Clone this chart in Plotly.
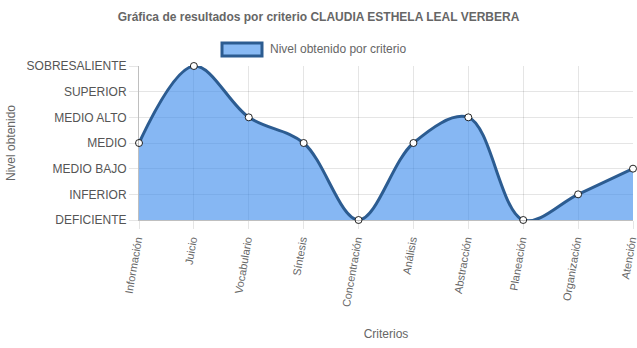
import plotly.graph_objects as go

# Criteria evaluated and the level obtained in each (0 = DEFICIENTE ... 6 = SOBRESALIENTE)
criterios = ["Información", "Juicio", "Vocabulario", "Síntesis", "Concentración",
             "Análisis", "Abstracción", "Planeación", "Organización", "Atención"]
niveles = [3, 6, 4, 3, 0, 3, 4, 0, 1, 2]
etiquetas_nivel = ["DEFICIENTE", "INFERIOR", "MEDIO BAJO", "MEDIO",
                   "MEDIO ALTO", "SUPERIOR", "SOBRESALIENTE"]

LINE = "rgb(44,92,145)"
FILL = "rgba(54,135,235,0.6)"
TXT = "#666666"
GRID = "rgba(0,0,0,0.1)"
FONT = "Liberation Sans, Arial, sans-serif"

fig = go.Figure()
fig.add_trace(go.Scatter(
    x=list(range(len(criterios))), y=niveles,
    mode="lines+markers",
    line=dict(color=LINE, width=3, shape="spline", smoothing=1.0),
    fill="tozeroy", fillcolor=FILL,
    marker=dict(size=7, color="white", line=dict(color="rgba(0,0,0,0.85)", width=1)),
    cliponaxis=False, showlegend=False,
))

fig.update_layout(
    width=637, height=348,
    margin=dict(l=139, r=4, t=66, b=128),
    paper_bgcolor="white", plot_bgcolor="white",
    font=dict(family=FONT, size=12, color=TXT),
    title=dict(text="<b>Gráfica de resultados por criterio CLAUDIA ESTHELA LEAL VERBERA</b>",
               x=0.5, xanchor="center", y=1 - 17 / 348, yanchor="middle",
               font=dict(size=12, color=TXT, family=FONT)),
    xaxis=dict(
        range=[0, len(criterios) - 1],
        tickvals=list(range(len(criterios))), ticktext=criterios,
        tickangle=-80, tickfont=dict(size=11, color=TXT),
        ticklabeloverflow="allow", ticklabelshift=-2,
        showgrid=True, gridcolor=GRID, gridwidth=1,
        ticks="outside", ticklen=8, tickcolor=GRID,
        showline=True, linecolor="rgba(0,0,0,0.25)", linewidth=1,
        zeroline=False, automargin=False,
        title=dict(text="Criterios", font=dict(size=12, color=TXT), standoff=22),
    ),
    yaxis=dict(
        range=[0, 6],
        tickvals=list(range(len(etiquetas_nivel))), ticktext=etiquetas_nivel,
        tickfont=dict(size=12, color="#555555"),
        showgrid=True, gridcolor=GRID, gridwidth=1,
        ticks="outside", ticklen=9, tickcolor=GRID,
        showline=True, linecolor="rgba(0,0,0,0.25)", linewidth=1,
        zeroline=False, automargin=False,
        title=dict(text="Nivel obtenido", font=dict(size=12, color=TXT), standoff=8),
    ),
)

# Legend swatch and label
fig.add_shape(type="rect", xref="paper", yref="paper",
              x0=(222 - 139) / 494, x1=(262 - 139) / 494,
              y0=(220 - 56) / 154, y1=(220 - 43) / 154,
              fillcolor="rgb(137,186,244)", line=dict(color=LINE, width=3))
fig.add_annotation(text="Nivel obtenido por criterio", xref="paper", yref="paper",
                   x=(268 - 139) / 494, y=(220 - 49) / 154, xanchor="left", yanchor="middle",
                   showarrow=False, font=dict(size=12, color=TXT, family=FONT))

fig.write_html("out.html")
